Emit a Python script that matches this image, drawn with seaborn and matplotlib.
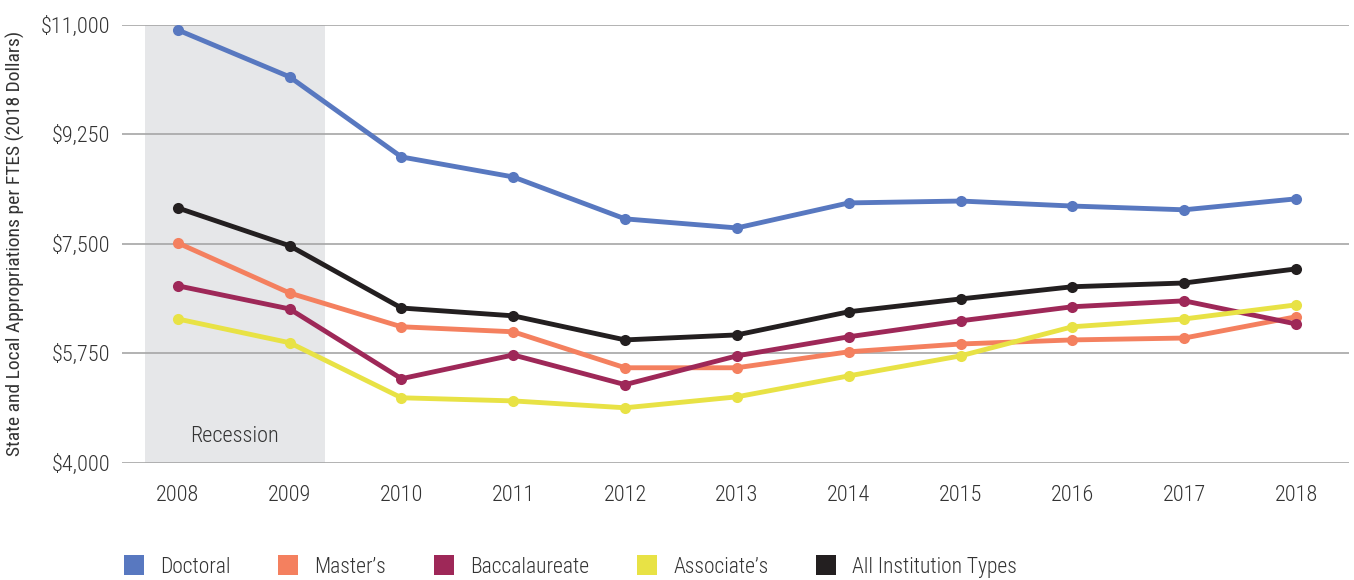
import pandas as pd
import seaborn as sns
import matplotlib.pyplot as plt
from matplotlib.lines import Line2D

sns.set_theme(style="white")
plt.rcParams["font.family"] = ["Roboto Condensed", "DejaVu Sans"]
plt.rcParams["font.weight"] = "light"

## Data
years = [2008, 2009, 2010, 2011, 2012, 2013, 2014, 2015, 2016, 2017, 2018]
doctoral = [10920, 10170, 8890, 8570, 7900, 7755, 8155, 8185, 8105, 8045, 8220]
masters = [7515, 6715, 6175, 6095, 5520, 5520, 5775, 5900, 5965, 5995, 6335]
bacc = [6830, 6460, 5345, 5725, 5250, 5710, 6015, 6270, 6495, 6590, 6220]
associates = [6300, 5920, 5040, 4990, 4880, 5055, 5390, 5710, 6175, 6300, 6525]
all_types = [8075, 7470, 6475, 6350, 5965, 6045, 6415, 6620, 6815, 6875, 7100]

series = ["Doctoral", "Master\u2019s", "Baccalaureate", "Associate\u2019s", "All Institution Types"]
colors = ["#5878C0", "#F4805F", "#9E2858", "#E8E245", "#231F20"]
yticks = [4000, 5750, 7500, 9250, 11000]

df = pd.DataFrame({
    "Year": years * 5,
    "Value": doctoral + masters + bacc + associates + all_types,
    "Type": [s for s in series for _ in years],
})

fig = plt.figure(figsize=(13.54, 5.8), dpi=100)
ax = fig.add_axes([0.090, 0.202, 0.906, 0.755])

# recession shading
ax.axvspan(2007.71, 2009.32, color="#E6E7E9", zorder=0, lw=0)
ax.text(2008.51, 4420, "Recession", ha="center", va="center", fontsize=16, color="#333333")

for y in yticks:
    ax.axhline(y, color="#A6A6A6", lw=1.2, zorder=1)

sns.lineplot(
    data=df, x="Year", y="Value", hue="Type", hue_order=series,
    palette=colors, marker="o", markersize=8, markeredgewidth=0,
    linewidth=3.5, legend=False, ax=ax, zorder=3,
)

ax.set_xlim(2007.5, 2018.47)
ax.set_ylim(4000, 11000)
ax.set_xticks(years)
ax.set_xticklabels([str(y) for y in years])
ax.set_yticks(yticks)
ax.set_yticklabels([f"${v:,}" for v in yticks])
ax.tick_params(axis="both", length=0, labelsize=16, labelcolor="#333333")
ax.tick_params(axis="x", pad=16)
ax.tick_params(axis="y", pad=8.5)
ax.set_xlabel("")
ax.set_ylabel("State and Local Appropriations per FTES (2018 Dollars)", fontsize=14, color="#333333")
ax.yaxis.set_label_coords(-0.079, 0.5)
for sp in ax.spines.values():
    sp.set_visible(False)

handles = [Line2D([0], [0], marker="s", color="none", markerfacecolor=c, markeredgewidth=0, markersize=14)
           for c in colors]
fig.legend(handles, series, loc="center left", bbox_to_anchor=(0.091, 0.022), ncol=5, frameon=False,
           fontsize=15.5, handlelength=1.0, handletextpad=0.7, columnspacing=2.2,
           borderpad=0, borderaxespad=0, labelcolor="#333333")

fig.savefig("out.png", dpi=100)
